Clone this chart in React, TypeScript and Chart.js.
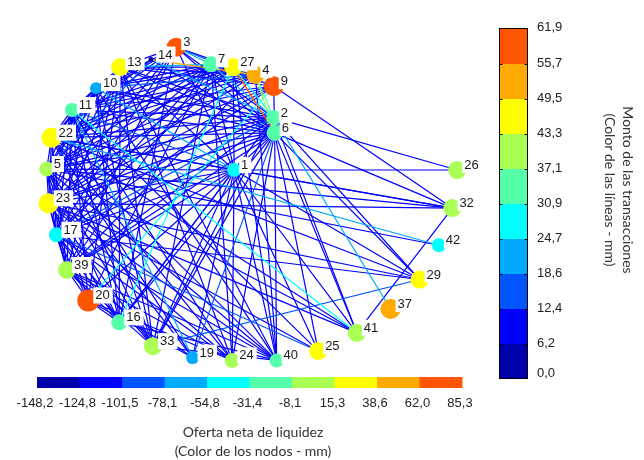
import { useEffect, useRef } from "react";
import { Chart, registerables } from "chart.js";

Chart.register(...registerables);

// Colour scale (10 classes)
const palette = ["#0000AA", "#0000FF", "#0055FF", "#00AAFF", "#00FFFF", "#55FFAA", "#AAFF55", "#FFFF00", "#FFAA00", "#FF5500"];
const nodeTickLabels = ["-148,2", "-124,8", "-101,5", "-78,1", "-54,8", "-31,4", "-8,1", "15,3", "38,6", "62,0", "85,3"];
const lineTickLabels = ["0,0", "6,2", "12,4", "18,6", "24,7", "30,9", "37,1", "43,3", "49,5", "55,7", "61,9"];
const nodeRange = [-148.2, 85.3];
const lineRange = [0, 61.9];

// Nodes (layout coordinates, net liquidity, marker size)
const nodeIds = [1, 2, 3, 4, 5, 6, 7, 9, 10, 11, 13, 14, 16, 17, 19, 20, 22, 23, 24, 25, 26, 27, 29, 32, 33, 37, 39, 40, 41, 42];
const nodeX = [231, 272, 171, 253, 37, 273, 207, 272, 88, 63, 113, 145, 112, 47, 188, 80, 42, 39, 229, 318, 462, 230, 423, 457, 147, 393, 58, 275, 358, 443];
const nodeY = [167, 112, 38, 67, 166, 128, 56, 79, 81, 104, 59, 51, 327, 235, 364, 304, 133, 202, 367, 357, 167, 59, 282, 207, 352, 313, 272, 367, 338, 246];
const nodeNet = [-40, -20, 75, 50, 5, -15, -25, 80, -65, -20, 25, -145, -18, -45, -60, 85, 30, 28, 2, 20, 0, 22, 25, 3, 5, 45, 4, -12, 6, -40];
const nodeSize = [7, 7.5, 9.5, 9, 7.5, 8, 8, 10, 6, 7, 9, 2.5, 8, 7.5, 6.5, 11, 10, 10, 7.5, 9, 9, 9, 9, 9, 9, 10, 9, 7, 9, 7];

// Transactions: [from, to, amount]
const edges: [number, number, number][] = [
  [6, 1, 8], [6, 3, 8], [6, 7, 8], [6, 10, 8], [6, 11, 8], [6, 13, 8], [6, 22, 8], [6, 5, 8], [6, 23, 8], [6, 17, 8],
  [6, 39, 8], [6, 16, 8], [6, 33, 8], [6, 24, 8], [6, 40, 8], [6, 41, 8], [6, 29, 8], [6, 32, 8], [6, 25, 8], [6, 19, 15],
  [6, 27, 58], [6, 4, 40], [6, 9, 8], [6, 14, 10],
  [2, 3, 8], [2, 7, 20], [2, 13, 8], [2, 10, 8], [2, 11, 8], [2, 22, 8], [2, 5, 8], [2, 23, 8], [2, 17, 15], [2, 39, 8],
  [2, 16, 8], [2, 33, 8], [2, 26, 8], [2, 29, 8], [2, 37, 20], [2, 41, 8], [2, 4, 35], [2, 14, 20], [2, 27, 27],
  [1, 3, 8], [1, 7, 8], [1, 13, 8], [1, 11, 15], [1, 22, 8], [1, 5, 8], [1, 23, 8], [1, 17, 8], [1, 39, 8], [1, 20, 8],
  [1, 16, 8], [1, 33, 8], [1, 19, 8], [1, 24, 8], [1, 40, 8], [1, 25, 8], [1, 41, 8], [1, 29, 8], [1, 32, 8], [1, 26, 8],
  [1, 10, 20], [1, 27, 8],
  [3, 13, 8], [3, 10, 8], [3, 11, 8], [3, 22, 8], [3, 5, 8], [3, 23, 8], [3, 7, 20], [3, 27, 8], [3, 17, 8], [3, 39, 8],
  [3, 16, 8], [3, 9, 15],
  [7, 13, 22], [7, 10, 8], [7, 11, 8], [7, 22, 8], [7, 5, 8], [7, 23, 8], [7, 17, 8], [7, 39, 8], [7, 20, 8], [7, 33, 8],
  [7, 24, 8], [7, 4, 15], [7, 9, 8],
  [27, 13, 8], [27, 11, 8], [27, 22, 8], [27, 5, 8], [27, 23, 8], [27, 40, 8], [27, 17, 8], [27, 16, 27], [27, 10, 8],
  [4, 14, 50], [4, 13, 8], [4, 11, 8], [4, 22, 8], [4, 5, 8], [4, 23, 8], [4, 39, 8], [4, 40, 8], [4, 10, 15],
  [9, 32, 8], [9, 13, 8], [9, 11, 8], [9, 22, 8], [9, 23, 8], [9, 5, 8], [9, 20, 27], [9, 17, 8],
  [13, 11, 8], [13, 22, 8], [13, 5, 8], [13, 23, 8], [13, 17, 8], [13, 39, 8], [13, 20, 8], [13, 16, 8], [13, 33, 8],
  [13, 24, 8], [13, 40, 8], [13, 10, 15],
  [14, 11, 8], [14, 22, 8], [14, 5, 15],
  [10, 22, 8], [10, 5, 8], [10, 23, 8], [10, 17, 8], [10, 16, 8], [10, 33, 8], [10, 40, 8], [10, 11, 8],
  [11, 5, 8], [11, 23, 8], [11, 17, 8], [11, 39, 8], [11, 20, 8], [11, 16, 8], [11, 33, 8], [11, 19, 20], [11, 41, 27],
  [11, 25, 8], [11, 24, 8], [11, 22, 8],
  [22, 42, 20], [22, 32, 8], [22, 23, 8], [22, 17, 8], [22, 39, 8], [22, 33, 8], [22, 24, 8], [22, 40, 8], [22, 41, 8],
  [22, 29, 8], [22, 5, 8], [22, 19, 8],
  [5, 23, 8], [5, 17, 8], [5, 39, 8], [5, 20, 8], [5, 16, 8], [5, 33, 8], [5, 40, 8], [5, 32, 8], [5, 42, 8], [5, 41, 8], [5, 19, 8],
  [23, 17, 8], [23, 39, 8], [23, 32, 8], [23, 29, 8], [23, 16, 8], [23, 33, 8], [23, 24, 8], [23, 40, 8], [23, 25, 8], [23, 41, 8],
  [17, 39, 8], [17, 20, 8], [17, 25, 15], [17, 29, 8], [17, 40, 8], [17, 24, 8], [17, 33, 8], [17, 16, 8],
  [39, 20, 8], [39, 16, 8], [39, 33, 8], [39, 40, 8], [39, 24, 8], [39, 19, 8],
  [20, 16, 8], [20, 24, 8], [20, 19, 8],
  [33, 29, 15], [33, 40, 8], [32, 41, 8], [16, 40, 8],
];

function classOf(v: number, range: number[]) {
  const i = Math.floor(((v - range[0]) / (range[1] - range[0])) * 10);
  return Math.max(0, Math.min(9, i));
}

const labelFont = '13px "Liberation Sans", Arial, sans-serif';
const tickFont = '13px "Liberation Sans", Arial, sans-serif';
const titleFont = '14px Lato, "Open Sans", sans-serif';

const nodeLabelPlugin = {
  id: "nodeLabels",
  afterDatasetsDraw(chart: any) {
    const { ctx, scales } = chart;
    ctx.save();
    ctx.font = labelFont;
    ctx.textBaseline = "alphabetic";
    nodeIds.forEach((id, i) => {
      const px = scales.x.getPixelForValue(nodeX[i]);
      const py = scales.y.getPixelForValue(nodeY[i]);
      const t = String(id);
      const w = ctx.measureText(t).width;
      ctx.fillStyle = "#ffffff";
      ctx.fillRect(px + 5, py - 13, w + 5, 16);
      ctx.fillStyle = "#1a1a1a";
      ctx.fillText(t, px + 7, py - 1);
    });
    ctx.restore();
  },
};

const colorbarPlugin = {
  id: "colorbars",
  afterDraw(chart: any) {
    const { ctx } = chart;
    ctx.save();
    // vertical colorbar (line amounts)
    const vx = 499.5, vy = 28.5, vw = 28, vh = 350;
    const seg = vh / 10;
    palette.forEach((c, i) => {
      ctx.fillStyle = c;
      ctx.fillRect(vx, vy + vh - (i + 1) * seg, vw, seg + 0.5);
    });
    ctx.strokeStyle = "#000";
    ctx.lineWidth = 1;
    ctx.strokeRect(vx, vy, vw, vh);
    ctx.beginPath();
    for (let k = 1; k < 10; k++) {
      const yy = Math.round(vy + vh - k * seg) + 0.5;
      ctx.moveTo(vx, yy); ctx.lineTo(vx + 3, yy);
      ctx.moveTo(vx + vw, yy); ctx.lineTo(vx + vw - 3, yy);
    }
    ctx.stroke();
    ctx.fillStyle = "#222";
    ctx.font = tickFont;
    ctx.textAlign = "left";
    ctx.textBaseline = "middle";
    lineTickLabels.forEach((t, k) => {
      let yy = vy + vh - k * seg;
      if (k === 0) yy -= 5;
      if (k === 10) yy -= 1;
      ctx.fillText(t, 537, yy);
    });
    ctx.save();
    ctx.translate(619, 190);
    ctx.rotate(Math.PI / 2);
    ctx.font = titleFont;
    ctx.fillStyle = "#333";
    ctx.textAlign = "center";
    ctx.fillText("Monto de las transacciones", 0, -9);
    ctx.fillText("(Color de las líneas - mm)", 0, 9);
    ctx.restore();

    // horizontal colorbar (node net liquidity)
    const hx = 37, hy = 377, hw = 425, hh = 11;
    const hs = hw / 10;
    palette.forEach((c, i) => {
      ctx.fillStyle = c;
      ctx.fillRect(hx + i * hs, hy, hs + 0.5, hh);
    });
    ctx.fillStyle = "#222";
    ctx.font = tickFont;
    ctx.textAlign = "center";
    ctx.textBaseline = "middle";
    nodeTickLabels.forEach((t, k) => {
      ctx.fillText(t, hx + k * hs - 2, 403);
    });
    ctx.font = titleFont;
    ctx.fillStyle = "#333";
    ctx.fillText("Oferta neta de liquidez", 253, 432);
    ctx.fillText("(Color de los nodos - mm)", 253, 451);
    ctx.restore();
  },
};

export default function App() {
  const ref = useRef<HTMLCanvasElement | null>(null);
  useEffect(() => {
    if (!ref.current) return;
    const idx = (id: number) => nodeIds.indexOf(id);
    const edgeSets = edges.map(([a, b, amt]) => {
      const ia = idx(a), ib = idx(b);
      return {
        type: "scatter" as const,
        showLine: true,
        data: [
          { x: nodeX[ia], y: nodeY[ia] },
          { x: nodeX[ib], y: nodeY[ib] },
        ],
        borderColor: palette[classOf(amt, lineRange)],
        borderWidth: 1.2,
        pointRadius: 0,
        order: -amt,
      };
    });
    const nodeSet = {
      type: "scatter" as const,
      data: nodeIds.map((_, i) => ({ x: nodeX[i], y: nodeY[i] })),
      pointRadius: nodeSize,
      pointBackgroundColor: nodeNet.map((v) => palette[classOf(v, nodeRange)]),
      pointBorderWidth: 0,
      pointBorderColor: "rgba(0,0,0,0)",
      order: -1000,
    };
    const chart = new Chart(ref.current, {
      type: "scatter",
      data: { datasets: [nodeSet, ...edgeSets] as any },
      options: {
        responsive: false,
        animation: false,
        devicePixelRatio: 1,
        events: [],
        layout: { padding: 0 },
        plugins: { legend: { display: false }, tooltip: { enabled: false } },
        scales: {
          x: { type: "linear", min: 0, max: 644, display: false },
          y: { type: "linear", min: 0, max: 460, reverse: true, display: false },
        },
      },
      plugins: [nodeLabelPlugin, colorbarPlugin],
    });
    return () => chart.destroy();
  }, []);
  return (
    <div style={{ position: "absolute", left: 0, top: 0, width: 644, height: 460, background: "#fff" }}>
      <canvas ref={ref} width={644} height={460} />
    </div>
  );
}
